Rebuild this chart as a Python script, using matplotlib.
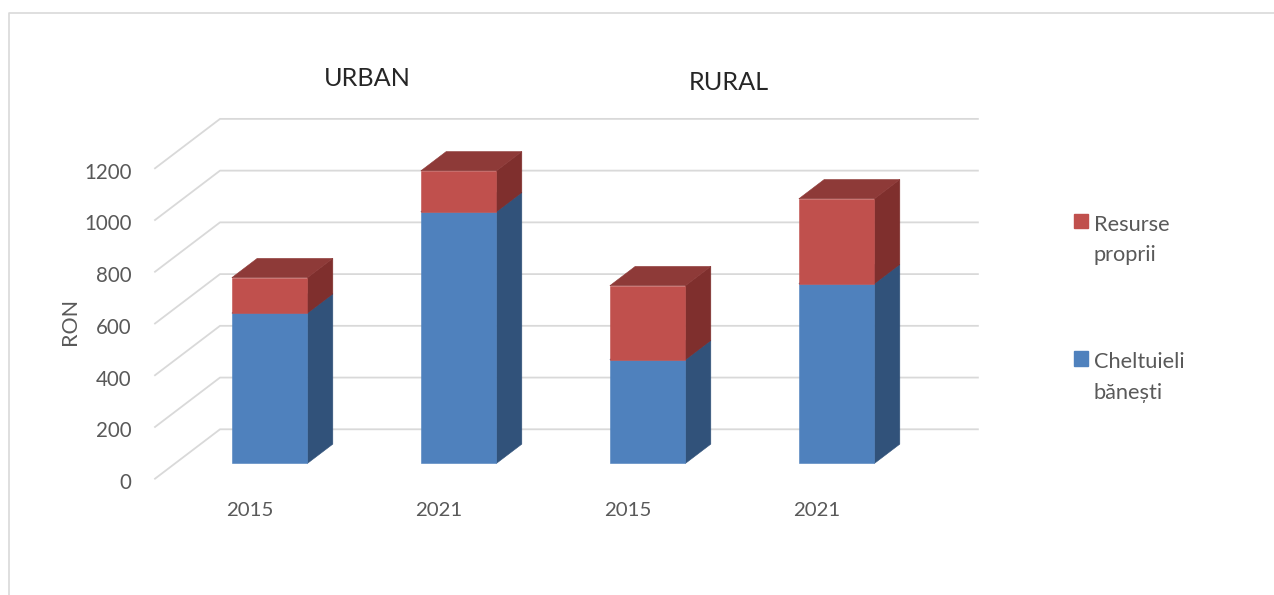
import matplotlib
matplotlib.use("Agg")
import matplotlib.pyplot as plt
from matplotlib.legend_handler import HandlerPatch
from matplotlib.lines import Line2D
from matplotlib.patches import Patch, Rectangle
from matplotlib.transforms import ScaledTranslation

plt.rcParams["font.family"] = ["Lato", "DejaVu Sans"]

# =====================================
# Data (RON)
# =====================================
years = ["2015", "2021", "2015", "2021"]
cheltuieli = [581, 973, 401, 695]
resurse = [137, 158, 286, 328]
y_ticks = [0, 200, 400, 600, 800, 1000, 1200]

BLUE = ("#4F81BD", "#31527A", "#3A5F8C")
RED = ("#C0504D", "#7F2F2D", "#8E3A38")
TEXT = "#595959"
GRID = "#D9D9D9"

W, H = 1274, 595
DEPTH_X, DEPTH_Y = 0.344, 191   # how far the back wall is shifted, in data units
Z0, Z1 = 0.31, 0.70             # bar position inside the depth
HALF = 0.2


def shift(x, y, z):
    return x + z * DEPTH_X, y + z * DEPTH_Y


def draw_box(ax, xc, bottom, top, colors):
    """Front, side and top faces of one stacked segment."""
    front, side, lid = colors
    xl, xr = xc - HALF, xc + HALF
    faces = [
        (side, [(xr, bottom, Z0), (xr, top, Z0), (xr, top, Z1), (xr, bottom, Z1)]),
        (lid, [(xl, top, Z0), (xr, top, Z0), (xr, top, Z1), (xl, top, Z1)]),
        (front, [(xl, bottom, Z0), (xr, bottom, Z0), (xr, top, Z0), (xl, top, Z0)]),
    ]
    for color, corners in faces:
        pts = [shift(*c) for c in corners]
        ax.fill([p[0] for p in pts], [p[1] for p in pts], color=color, lw=0.4,
                clip_on=False, zorder=3)


def first_line_square(legend, orig_handle, xdescent, ydescent, width, height, fontsize):
    # lift the square so it sits next to the first line of a two line label
    return Rectangle((-xdescent, -ydescent + 14.0), width, height)


fig = plt.figure(figsize=(W / 100, H / 100), dpi=100)
ax = fig.add_axes([155 / W, 1 - 478.7 / H, 756 / W, 310.4 / H])
ax.set_xlim(-0.5, 3.5)
ax.set_ylim(0, 1200)
ax.patch.set_visible(False)
for s in ax.spines.values():
    s.set_visible(False)

# --- floor lines and back wall ---
for v in y_ticks:
    bx, by = shift(-0.5, v, 1)
    ex, ey = shift(3.51, v, 1)
    ax.plot([-0.5, bx, ex], [v, by, ey], color=GRID, lw=1.3, clip_on=False, zorder=1)

# --- stacked boxes ---
positions = range(len(years))
for i in positions:
    draw_box(ax, i, 0, cheltuieli[i], BLUE)
    draw_box(ax, i, cheltuieli[i], cheltuieli[i] + resurse[i], RED)

ax.set_xticks(list(positions), years)
ax.set_yticks(y_ticks)
ax.tick_params(axis="x", length=0, pad=17, labelsize=14.7, labelcolor=TEXT)
ax.tick_params(axis="y", length=0, pad=17, labelsize=14.8, labelcolor=TEXT)
down = ScaledTranslation(0, -1.7 / 72, fig.dpi_scale_trans)
for label in ax.get_yticklabels():
    label.set_transform(label.get_transform() + down)
ax.set_ylabel("RON", fontsize=15.5, color=TEXT, labelpad=2.5)
ax.yaxis.label.set_y(0.5 + 2.5 / 310)

# --- panel titles ---
fig.text(367 / W, 1 - 79 / H, "URBAN", fontsize=18.2, color="#262626", ha="center", va="center")
fig.text(729 / W, 1 - 82 / H, "RURAL", fontsize=18.2, color="#262626", ha="center", va="center")

# --- legend, square sits next to the first line of each label ---
leg = ax.legend(
    handles=[Patch(color=RED[0]), Patch(color=BLUE[0])],
    labels=["Resurse\nproprii", "Cheltuieli\nbănești"],
    loc="upper left", bbox_to_anchor=(1054 / W, 1 - 195 / H), bbox_transform=fig.transFigure,
    frameon=False, fontsize=15.7, labelcolor=TEXT, labelspacing=4.0,
    handlelength=0.64, handleheight=0.64, handletextpad=0.28,
    handler_map={Patch: HandlerPatch(patch_func=first_line_square)},
)
for t in leg.get_texts():
    t.set_linespacing(1.65)

# --- chart frame (only top and left visible in the crop) ---
fig.add_artist(Line2D([9 / W, 9 / W, 1], [0, 1 - 13.3 / H, 1 - 13.3 / H], color=GRID, lw=1.2))

fig.savefig("out.png", dpi=100)
